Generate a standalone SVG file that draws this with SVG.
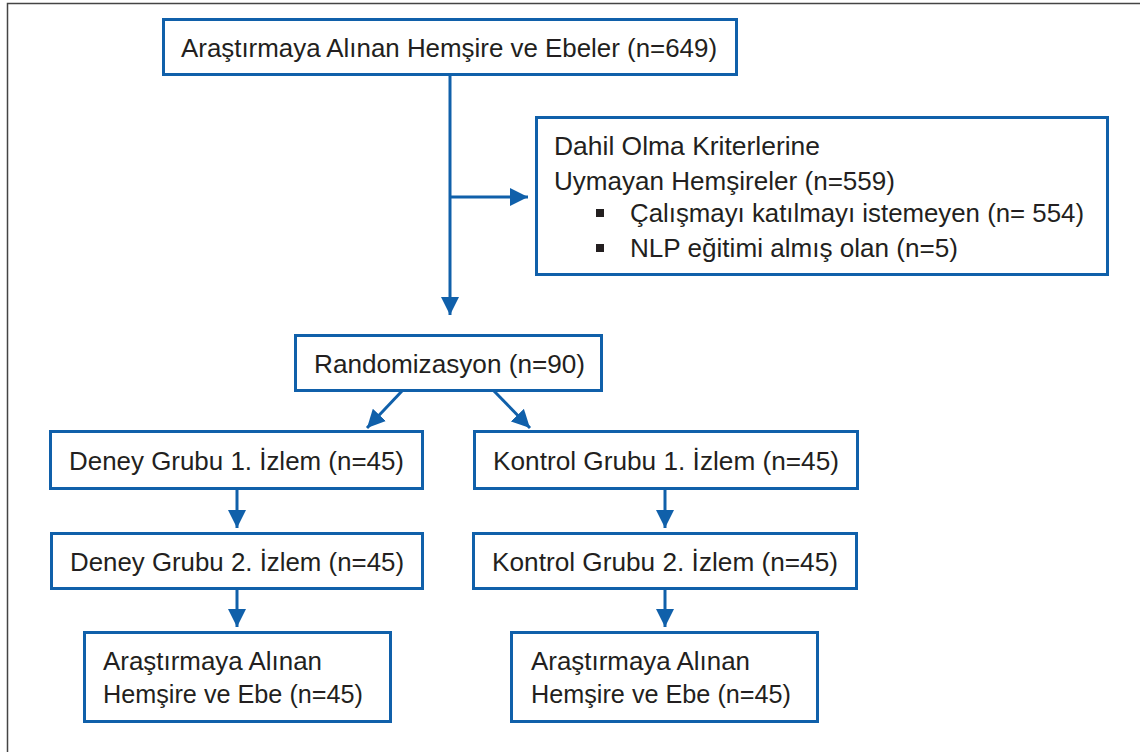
<svg xmlns="http://www.w3.org/2000/svg" width="1140" height="752" viewBox="0 0 1140 752">
<style>
.box{fill:#fff;stroke:#1060aa;stroke-width:3}
.t{font-family:"Liberation Sans",Arial,sans-serif;font-size:26px;fill:#231f20}
.c{stroke:#1060aa;stroke-width:3;fill:none}
</style>
<defs>
<marker id="ah" markerUnits="userSpaceOnUse" markerWidth="20" markerHeight="18" refX="18" refY="9" orient="auto">
<path d="M0,0 L18,9 L0,18 Z" fill="#1060aa"/>
</marker>
</defs>
<rect x="0" y="0" width="1140" height="752" fill="#fff"/>
<rect x="7.5" y="3.5" width="1150" height="770" fill="none" stroke="#444" stroke-width="1.5"/>
<g id="connectors">
<path class="c" d="M450,75 V315" marker-end="url(#ah)"/>
<path class="c" d="M450,197 H528" marker-end="url(#ah)"/>
<path class="c" d="M402,391 L367,428" marker-end="url(#ah)"/>
<path class="c" d="M494,391 L530,428" marker-end="url(#ah)"/>
<path class="c" d="M237,489 V528" marker-end="url(#ah)"/>
<path class="c" d="M237,588 V627" marker-end="url(#ah)"/>
<path class="c" d="M665,489 V528" marker-end="url(#ah)"/>
<path class="c" d="M665,588 V627" marker-end="url(#ah)"/>
</g>
<g id="n-top">
<rect class="box" x="163.5" y="19.5" width="573" height="55"/>
<text class="t" x="181" y="57" textLength="536" lengthAdjust="spacingAndGlyphs">Araştırmaya Alınan Hemşire ve Ebeler (n=649)</text>
</g>
<g id="n-excluded">
<rect class="box" x="536.5" y="117.5" width="571" height="157"/>
<text class="t" x="554" y="155" textLength="266" lengthAdjust="spacingAndGlyphs">Dahil Olma Kriterlerine</text>
<text class="t" x="554" y="190" textLength="341" lengthAdjust="spacingAndGlyphs">Uymayan Hemşireler (n=559)</text>
<rect x="596" y="209" width="8" height="8" fill="#231f20"/>
<text class="t" x="630" y="222" textLength="454" lengthAdjust="spacingAndGlyphs">Çalışmayı katılmayı istemeyen (n= 554)</text>
<rect x="596" y="244" width="8" height="8" fill="#231f20"/>
<text class="t" x="630" y="257" textLength="328" lengthAdjust="spacingAndGlyphs">NLP eğitimi almış olan (n=5)</text>
</g>
<g id="n-random">
<rect class="box" x="295.5" y="335.5" width="306" height="55"/>
<text class="t" x="314" y="373" textLength="271" lengthAdjust="spacingAndGlyphs">Randomizasyon (n=90)</text>
</g>
<g id="n-deney1">
<rect class="box" x="50.5" y="431.5" width="372" height="57"/>
<text class="t" x="69" y="470" textLength="335" lengthAdjust="spacingAndGlyphs">Deney Grubu 1. İzlem (n=45)</text>
</g>
<g id="n-kontrol1">
<rect class="box" x="474.5" y="431.5" width="383" height="57"/>
<text class="t" x="493" y="470" textLength="346" lengthAdjust="spacingAndGlyphs">Kontrol Grubu 1. İzlem (n=45)</text>
</g>
<g id="n-deney2">
<rect class="box" x="51.5" y="533.5" width="371" height="55"/>
<text class="t" x="70" y="571" textLength="334" lengthAdjust="spacingAndGlyphs">Deney Grubu 2. İzlem (n=45)</text>
</g>
<g id="n-kontrol2">
<rect class="box" x="473.5" y="533.5" width="383" height="55"/>
<text class="t" x="492" y="571" textLength="346" lengthAdjust="spacingAndGlyphs">Kontrol Grubu 2. İzlem (n=45)</text>
</g>
<g id="n-deney-final">
<rect class="box" x="84.5" y="632.5" width="306" height="89"/>
<text class="t" x="103" y="670" textLength="219" lengthAdjust="spacingAndGlyphs">Araştırmaya Alınan</text>
<text class="t" x="103" y="703" textLength="260" lengthAdjust="spacingAndGlyphs">Hemşire ve Ebe (n=45)</text>
</g>
<g id="n-kontrol-final">
<rect class="box" x="511.5" y="632.5" width="306" height="89"/>
<text class="t" x="531" y="670" textLength="219" lengthAdjust="spacingAndGlyphs">Araştırmaya Alınan</text>
<text class="t" x="531" y="703" textLength="260" lengthAdjust="spacingAndGlyphs">Hemşire ve Ebe (n=45)</text>
</g>
</svg>
